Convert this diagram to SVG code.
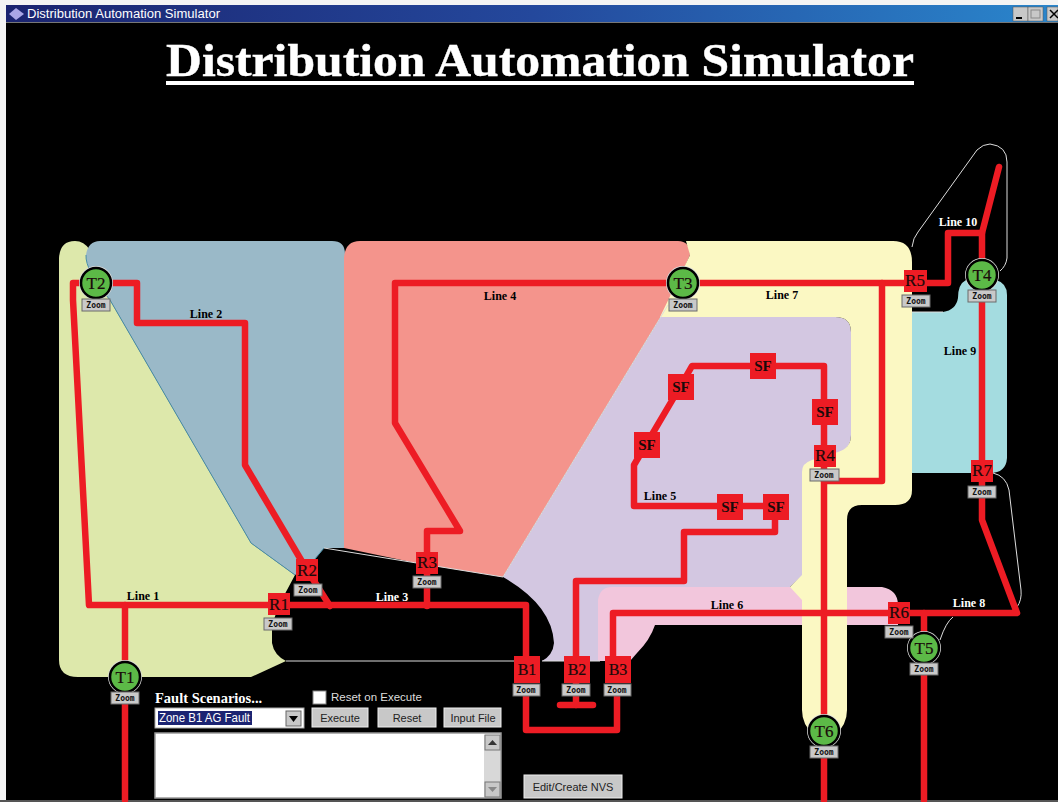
<svg xmlns="http://www.w3.org/2000/svg" width="1058" height="802" viewBox="0 0 1058 802">
<defs>
<linearGradient id="tb" x1="0" x2="1" y1="0" y2="0"><stop offset="0" stop-color="#1b2470"/><stop offset="0.5" stop-color="#24489c"/><stop offset="1" stop-color="#2a86cc"/></linearGradient>
</defs>
<style>
.w{stroke:#ed1c24;stroke-width:6.500;fill:none;stroke-linejoin:round;stroke-linecap:round}
.sq{fill:#ed1c24}
.nt{font:16px "Liberation Serif",serif;fill:#1a0a0a;text-anchor:middle;stroke:#1a0a0a;stroke-width:0.2}
.r{font-size:17px}
.sf{font:bold 15px "Liberation Serif",serif;fill:#1a0a0a;text-anchor:middle}
.h{fill:#ddd}
.c{fill:#5cb947;stroke:#000;stroke-width:2.500}
.zb{fill:#c9c9c9;stroke:#6a6a6a;stroke-width:1}
.zt{font:bold 8px "DejaVu Sans Mono","Liberation Mono",monospace;fill:#111;text-anchor:middle}
.lb{font:bold 12px "Liberation Serif",serif;fill:#000;text-anchor:middle}
.lw{fill:#fff}
.ol{fill:none;stroke:#ddd;stroke-width:1}
.btn{fill:#c8c8c8;stroke:#eee;stroke-width:1}
.bt{font:11px "Liberation Sans",sans-serif;fill:#222;text-anchor:middle}
</style>
<rect width="1058" height="802" fill="#f4f4f4"/>
<rect x="6" y="22" width="1052" height="778" fill="#000"/>
<rect y="800" width="1058" height="2" fill="#555"/>
<g id="titlebar">
<rect x="6" y="5" width="1052" height="17" fill="url(#tb)"/>
<rect x="6" y="22" width="1052" height="1" fill="#777"/>
<path d="M9 14 L16 8 L24 14 L16 20 Z" fill="#a9a6e6"/>
<text x="27" y="18" font-family="Liberation Sans, sans-serif" font-size="12" fill="#fff" textLength="193" lengthAdjust="spacingAndGlyphs">Distribution Automation Simulator</text>
<rect x="1013" y="7" width="15" height="14" fill="#c8c8c8" stroke="#555" stroke-width="0.5"/><rect x="1016" y="17" width="6" height="2" fill="#000"/>
<rect x="1028" y="7" width="15" height="14" fill="#c8c8c8" stroke="#555" stroke-width="0.5"/><rect x="1031" y="10" width="9" height="8" fill="none" stroke="#888"/>
<rect x="1047" y="7" width="11" height="14" fill="#c8c8c8" stroke="#555" stroke-width="0.5"/><path d="M1050 10 L1058 18 M1058 10 L1050 18" stroke="#000" stroke-width="1.500"/>
</g>
<g id="title">
<text x="166" y="76" font-family="Liberation Serif, serif" font-weight="bold" font-size="47" fill="#fff" stroke="#fff" stroke-width="0.4" textLength="748" lengthAdjust="spacingAndGlyphs">Distribution Automation Simulator</text>
<rect x="166" y="81" width="748" height="4" fill="#fff"/>
</g>
<g id="zones">
<path id="zone-line1" d="M59 258 Q60 241 75 241 Q84 241 90 250 L110 300 L251 543 L295 575 L279 605 L272 625 V643 Q274 655 286 661 L251 677 H78 Q59 677 59 660 Z" fill="#dde8ab"/>
<path id="zone-line2" d="M100 241 H332 Q345 241 345 254 V548 H324 L310 565 L295 575 L251 543 L110 300 Q85 270 86 255 Q88 241 100 241 Z" fill="#9ab9c8"/>
<path id="zone-edge2" d="M86 255 Q85 270 110 300 L251 543 L295 575 M310 565 L324 548" fill="none" stroke="#4a8fa8" stroke-width="1"/>
<path id="zone-line4" d="M360 241 H678 Q690 241 690 255 L668 305 L503 577 L416 563 L344 548 V258 Q345 241 360 241 Z" fill="#f4948c"/>
<path id="zone-line5" d="M668 305 L503 577 Q552 605 554 643 Q553 655 542 661 H610 V600 L790 587 L803 575 V470 L835 455 Q851 450 851 435 V332 Q851 317 835 317 H668 Z" fill="#d3c7e1"/>
<path id="zone-line6" d="M598 600 Q600 587 612 587 H882 Q898 590 898 605 V625 H655 Q650 640 637 653 L630 661 H598 Z" fill="#f2c6dc"/>
<path id="zone-line7" d="M686 241 H893 Q912 241 912 262 V490 Q912 505 895 505 H862 Q847 505 847 520 V710 Q847 725 835 735 H814 Q802 725 802 710 V472 Q802 463 812 460 L838 452 Q851 448 851 435 V332 Q851 317 835 317 H660 L690 255 Z" fill="#fbf8c3"/>
<path id="zone-line7b" d="M790 587 L802 575 V600 Z" fill="#fbf8c3"/>
<path id="zone-line9" d="M912 312 H943 Q956 310 958 298 Q958 284 966 280 H996 Q1007 283 1007 295 V458 Q1006 473 990 473 H912 Z" fill="#a4dce0"/>
<path id="zone-line10" class="ol" d="M912 247 Q913 238 918 232 L977 150 Q983 144 990 144 Q1007 146 1007 162 V258 Q1006 266 1000 271 M912 312 H943"/>
<path id="zone-line8" class="ol" d="M993 473 Q1006 476 1009 490 L1021 590 Q1022 600 1017 607 M953 617 Q946 622 940 640"/>
<path id="zone-edges" class="ol" d="M286 661 H514 M542 661 H600 M324 548 L503 577 L668 305"/>
</g>
<g id="connectors">
<path class="w" d="M96 283 H73 V300 L89 605 H526 V668"/>
<path class="w" d="M125 605 V800"/>
<path class="w" d="M96 283 H137 V323 H245 V465 L307 570 L330 606"/>
<path class="w" d="M427 606 V562 V531 H460 L395 423 V283 H915"/>
<path class="w" d="M915 283 H948 V233 H982 L999 167"/>
<path class="w" d="M982 233 V520 L1017 613 H613 V668"/>
<path class="w" d="M924 613 V800"/>
<path class="w" d="M882 283 V481 H824"/>
<path class="w" d="M824 800 V366 H692 L680 387 L634 465 V506 H775 V532 H684 V581 H576 V705"/>
<path class="w" d="M560 705 H593"/>
<path class="w" d="M526 690 V730 H617 V690"/>
</g>
<g id="T1"><circle class="h" cx="125" cy="677" r="17"/><circle class="c" cx="125" cy="677" r="15"/><text class="nt r" x="125" y="683">T1</text><rect class="zb" x="111" y="692" width="28" height="12"/><text class="zt" x="125" y="701">Zoom</text></g>
<g id="T2"><circle class="h" cx="96" cy="283" r="17"/><circle class="c" cx="96" cy="283" r="15"/><text class="nt r" x="96" y="289">T2</text><rect class="zb" x="82" y="299" width="28" height="12"/><text class="zt" x="96" y="308">Zoom</text></g>
<g id="T3"><circle class="h" cx="683" cy="283" r="17"/><circle class="c" cx="683" cy="283" r="15"/><text class="nt r" x="683" y="289">T3</text><rect class="zb" x="669" y="299" width="28" height="12"/><text class="zt" x="683" y="308">Zoom</text></g>
<g id="T4"><circle class="h" cx="982" cy="275" r="17"/><circle class="c" cx="982" cy="275" r="15"/><text class="nt r" x="982" y="281">T4</text><rect class="zb" x="968" y="290" width="28" height="12"/><text class="zt" x="982" y="299">Zoom</text></g>
<g id="T5"><circle class="h" cx="924" cy="648" r="17"/><circle class="c" cx="924" cy="648" r="15"/><text class="nt r" x="924" y="654">T5</text><rect class="zb" x="910" y="663" width="28" height="12"/><text class="zt" x="924" y="672">Zoom</text></g>
<g id="T6"><circle class="h" cx="824" cy="731" r="17"/><circle class="c" cx="824" cy="731" r="15"/><text class="nt r" x="824" y="737">T6</text><rect class="zb" x="810" y="746" width="28" height="12"/><text class="zt" x="824" y="755">Zoom</text></g>
<g id="R1"><rect class="sq" x="268" y="593" width="22" height="22"/><text class="nt r" x="279" y="610">R1</text><rect class="zb" x="264" y="618" width="28" height="12"/><text class="zt" x="278" y="627">Zoom</text></g>
<g id="R2"><rect class="sq" x="296" y="559" width="22" height="22"/><text class="nt r" x="307" y="576">R2</text><rect class="zb" x="294" y="584" width="28" height="12"/><text class="zt" x="308" y="593">Zoom</text></g>
<g id="R3"><rect class="sq" x="416" y="552" width="22" height="22"/><text class="nt r" x="427" y="568">R3</text><rect class="zb" x="413" y="576" width="28" height="12"/><text class="zt" x="427" y="585">Zoom</text></g>
<g id="R4"><rect class="sq" x="814" y="445" width="22" height="22"/><text class="nt r" x="825" y="461">R4</text><rect class="zb" x="810" y="469" width="29" height="12"/><text class="zt" x="824" y="478">Zoom</text></g>
<g id="R5"><rect class="sq" x="904" y="270" width="23" height="22"/><text class="nt r" x="915" y="286">R5</text><rect class="zb" x="902" y="295" width="28" height="12"/><text class="zt" x="916" y="304">Zoom</text></g>
<g id="R6"><rect class="sq" x="888" y="602" width="22" height="22"/><text class="nt r" x="899" y="618">R6</text><rect class="zb" x="885" y="626" width="28" height="12"/><text class="zt" x="899" y="635">Zoom</text></g>
<g id="R7"><rect class="sq" x="971" y="460" width="22" height="22"/><text class="nt r" x="982" y="476">R7</text><rect class="zb" x="968" y="486" width="28" height="12"/><text class="zt" x="982" y="495">Zoom</text></g>
<g id="B1"><rect class="sq" x="514" y="656" width="26" height="27"/><text class="nt" x="527" y="675">B1</text><rect class="zb" x="513" y="684" width="27" height="12"/><text class="zt" x="526" y="693">Zoom</text></g>
<g id="B2"><rect class="sq" x="564" y="656" width="26" height="27"/><text class="nt" x="577" y="675">B2</text><rect class="zb" x="562" y="684" width="28" height="12"/><text class="zt" x="576" y="693">Zoom</text></g>
<g id="B3"><rect class="sq" x="605" y="656" width="26" height="27"/><text class="nt" x="618" y="675">B3</text><rect class="zb" x="604" y="684" width="27" height="12"/><text class="zt" x="617" y="693">Zoom</text></g>
<g id="SF1"><rect class="sq" x="750" y="353" width="26" height="26"/><text class="sf" x="763" y="371">SF</text></g>
<g id="SF2"><rect class="sq" x="668" y="374" width="26" height="26"/><text class="sf" x="681" y="392">SF</text></g>
<g id="SF3"><rect class="sq" x="634" y="432" width="26" height="26"/><text class="sf" x="647" y="450">SF</text></g>
<g id="SF4"><rect class="sq" x="812" y="399" width="26" height="26"/><text class="sf" x="825" y="417">SF</text></g>
<g id="SF5"><rect class="sq" x="717" y="494" width="26" height="26"/><text class="sf" x="730" y="512">SF</text></g>
<g id="SF6"><rect class="sq" x="763" y="494" width="26" height="26"/><text class="sf" x="776" y="512">SF</text></g>
<g id="labels">
<text class="lb" x="143" y="600">Line 1</text>
<text class="lb" x="206" y="318">Line 2</text>
<text class="lb lw" x="392" y="601">Line 3</text>
<text class="lb" x="500" y="300">Line 4</text>
<text class="lb" x="660" y="500">Line 5</text>
<text class="lb" x="727" y="609">Line 6</text>
<text class="lb" x="782" y="299">Line 7</text>
<text class="lb lw" x="969" y="607">Line 8</text>
<text class="lb" x="960" y="355">Line 9</text>
<text class="lb lw" x="958" y="226">Line 10</text>
</g>
<g id="controls">
<text x="155" y="703" font-family="Liberation Serif, serif" font-weight="bold" font-size="14.500" fill="#fff">Fault Scenarios...</text>
<rect x="313" y="691" width="13" height="13" fill="#fff" stroke="#888"/>
<text x="331" y="701" font-family="Liberation Sans, sans-serif" font-size="11.500" fill="#ddd">Reset on Execute</text>
<rect x="155" y="708" width="149" height="20" fill="#fff" stroke="#aaa"/>
<rect x="158" y="711" width="94" height="14" fill="#1c2472"/>
<text x="159" y="722" font-family="Liberation Sans, sans-serif" font-size="12" fill="#fff" textLength="91" lengthAdjust="spacingAndGlyphs">Zone B1 AG Fault</text>
<rect x="286" y="711" width="15" height="15" fill="#c8c8c8" stroke="#666"/>
<path d="M289 716 H298 L293.500 722 Z" fill="#000"/>
<rect class="btn" x="312" y="708" width="56" height="19"/><text class="bt" x="340" y="722">Execute</text>
<rect class="btn" x="378" y="708" width="58" height="19"/><text class="bt" x="407" y="722">Reset</text>
<rect class="btn" x="444" y="708" width="57" height="19"/><text class="bt" x="473" y="722">Input File</text>
<rect x="155" y="733" width="346" height="65" fill="#fff" stroke="#999" stroke-width="1.500"/>
<rect x="484" y="735" width="16" height="62" fill="#d8d8d8"/>
<rect x="485" y="735" width="15" height="15" fill="#c8c8c8" stroke="#777"/>
<path d="M488 745 H497 L492.500 740 Z" fill="#333"/>
<rect x="485" y="782" width="15" height="15" fill="#c8c8c8" stroke="#777"/>
<path d="M488 787 H497 L492.500 792 Z" fill="#888"/>
<rect class="btn" x="524" y="775" width="98" height="23"/><text class="bt" x="573" y="791">Edit/Create NVS</text>
</g>
</svg>
